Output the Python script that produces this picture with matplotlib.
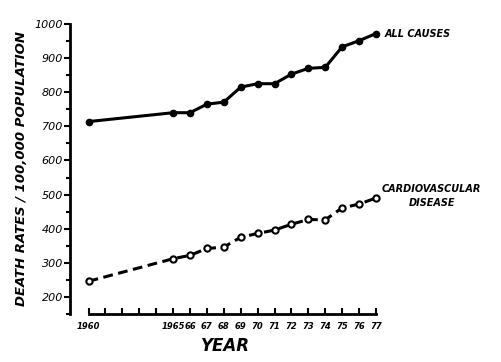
import matplotlib
matplotlib.use("Agg")
import matplotlib.pyplot as plt
from matplotlib.ticker import MultipleLocator

# Valori (morti / 100.000 abitanti)
years = [1960, 1965, 1966, 1967, 1968, 1969, 1970, 1971, 1972, 1973, 1974, 1975, 1976, 1977]
all_causes = [714, 740, 740, 765, 771, 815, 825, 825, 853, 870, 873, 933, 951, 972]
cardio = [246, 312, 322, 342, 346, 375, 386, 396, 413, 427, 426, 461, 472, 490]

tick_years = list(range(1960, 1978))
tick_labels = ["1960", "", "", "", "", "1965", "66", "67", "68", "69",
               "70", "71", "72", "73", "74", "75", "76", "77"]
y_ticks = [200, 300, 400, 500, 600, 700, 800, 900, 1000]

fig = plt.figure(figsize=(5.02, 3.62), dpi=100)
ax = fig.add_axes([0.1394, 0.1326, 0.6196, 0.8011])

ax.plot(years, all_causes, color="black", linewidth=2.2, marker="o",
        markersize=4.5, clip_on=False)
ax.plot(years, cardio, color="black", linewidth=2.2, linestyle=(0, (3.2, 1.8)),
        marker="o", markersize=4.5, markerfacecolor="white",
        markeredgewidth=1.5, clip_on=False)

ax.set_xlim(1958.9, 1977.3)
ax.set_ylim(150, 1000)

for s in ["top", "right"]:
    ax.spines[s].set_visible(False)
ax.spines["left"].set_linewidth(2)
ax.spines["bottom"].set_linewidth(2)
ax.spines["bottom"].set_bounds(1960, 1977)

ax.set_xticks(tick_years)
ax.set_xticklabels(tick_labels, fontsize=6, fontweight="bold", style="italic")
ax.tick_params(axis="x", direction="in", length=4, width=1.5, pad=6)

ax.set_yticks(y_ticks)
ax.set_yticklabels([str(v) for v in y_ticks], fontsize=8, style="italic")
ax.yaxis.set_minor_locator(MultipleLocator(50))
ax.tick_params(axis="y", which="major", direction="out", length=4, width=1.5, pad=1)
ax.tick_params(axis="y", which="minor", direction="out", length=3, width=1.5)

ax.set_ylabel("DEATH RATES / 100,000 POPULATION", fontsize=9.5,
              fontweight="bold", style="italic", labelpad=5)
ax.set_xlabel("YEAR", fontsize=12, fontweight="bold", style="italic",
              labelpad=4)

ax.text(1977.5, all_causes[-1], "ALL CAUSES", fontsize=7, fontweight="bold",
        style="italic", va="center", ha="left", clip_on=False)
ax.text(1980.3, cardio[-1] + 5, "CARDIOVASCULAR\nDISEASE", fontsize=7,
        fontweight="bold", style="italic", va="center", ha="center",
        multialignment="center", linespacing=1.5, clip_on=False)

fig.savefig("out.png", dpi=100)
